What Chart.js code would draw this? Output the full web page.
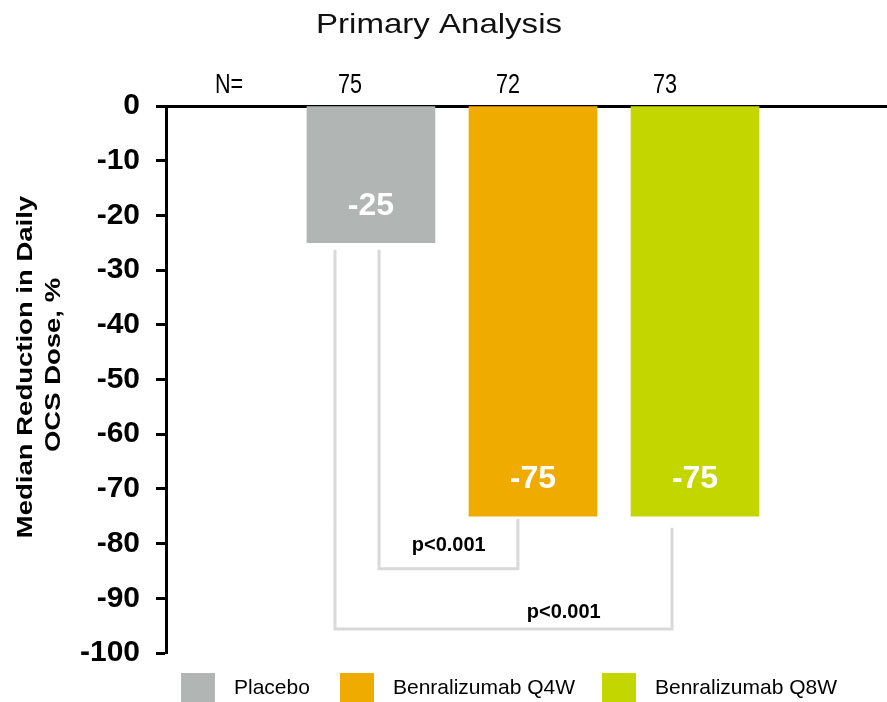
<!DOCTYPE html>
<html lang="en">
<head>
    <meta charset="UTF-8">
    <title>Primary Analysis</title>
    <script src="https://cdn.jsdelivr.net/npm/chart.js"></script>
    <style>
        html, body {
            margin: 0;
            padding: 0;
            background: #fff;
        }
        #wrap {
            width: 887px;
            height: 702px;
        }
    </style>
</head>
<body>
<div id="wrap">
    <canvas id="ocsChart" width="887" height="702"></canvas>
</div>
<script>
    const groups = ['Placebo', 'Benralizumab Q4W', 'Benralizumab Q8W'];
    const nPatients = [75, 72, 73];
    const medianReduction = [-25, -75, -75];
    const barColors = ['#b1b6b5', '#f0ab00', '#c4d600'];
    const pValues = ['p<0.001', 'p<0.001'];

    // bracket shapes, in axis units (x = group index, y = percent)
    const brackets = [
        { x1: 0.05, y1: -26.3, x2: 0.907, y2: -75.5, level: -84.6, textX: 0.48, textY: -80.0 },
        { x1: -0.222, y1: -26.3, x2: 1.858, y2: -77.1, level: -95.6, textX: 1.19, textY: -92.3 }
    ];

    const FONT = '"Liberation Sans", Arial, sans-serif';

    // text helper, sx widens or narrows the glyphs
    function drawText(ctx, text, x, y, font, color, sx, rot) {
        ctx.save();
        ctx.translate(x, y);
        if (rot) ctx.rotate(rot);
        ctx.scale(sx || 1, 1);
        ctx.font = font;
        ctx.fillStyle = color;
        ctx.textAlign = 'center';
        ctx.textBaseline = 'alphabetic';
        ctx.fillText(text, 0, 0);
        ctx.restore();
    }

    const bracketSets = brackets.map((b, i) => ({
        type: 'line',
        label: pValues[i],
        data: [
            { x: b.x1, y: b.y1 },
            { x: b.x1, y: b.level },
            { x: b.x2, y: b.level },
            { x: b.x2, y: b.y2 }
        ],
        borderColor: '#d9d9d9',
        borderWidth: 3,
        pointRadius: 0,
        fill: false,
        tension: 0
    }));

    const annotations = {
        id: 'annotations',
        afterDraw(chart) {
            const ctx = chart.ctx;
            const xs = chart.scales.x;
            const ys = chart.scales.y;

            // title
            drawText(ctx, 'Primary Analysis', 439, 33, '28px ' + FONT, '#111', 1.18);

            // y axis title, two lines
            drawText(ctx, 'Median Reduction in Daily', 32, 367, 'bold 22px ' + FONT, '#000', 1.25, -Math.PI / 2);
            drawText(ctx, 'OCS Dose, %', 60, 365, 'bold 22px ' + FONT, '#000', 1.25, -Math.PI / 2);

            // N row above the bars (narrow type)
            const nShift = [-21, -25, -30];
            drawText(ctx, 'N=', 229, 93, '27px ' + FONT, '#000', 0.8);
            nPatients.forEach((n, i) => {
                drawText(ctx, String(n), xs.getPixelForValue(i) + nShift[i], 93, '27px ' + FONT, '#000', 0.8);
            });

            // values inside the bars
            const meta = chart.getDatasetMeta(0);
            meta.data.forEach((bar, i) => {
                drawText(ctx, String(medianReduction[i]), bar.x, bar.y - 28, 'bold 32px ' + FONT, '#fff', 1);
            });

            // p-values
            brackets.forEach((b, i) => {
                drawText(ctx, pValues[i], xs.getPixelForValue(b.textX), ys.getPixelForValue(b.textY) + 7,
                    'bold 20px ' + FONT, '#000', 1);
            });

            // legend
            const boxX = [181, 340, 602];
            groups.forEach((g, i) => {
                ctx.fillStyle = barColors[i];
                ctx.fillRect(boxX[i], 673, 34, 29);
                ctx.save();
                ctx.font = '21px ' + FONT;
                ctx.fillStyle = '#000';
                ctx.textAlign = 'left';
                ctx.textBaseline = 'middle';
                ctx.fillText(g, boxX[i] + 53, 688);
                ctx.restore();
            });
        }
    };

    const chart = new Chart(document.getElementById('ocsChart'), {
        type: 'bar',
        data: {
            datasets: [{
                label: 'Median reduction',
                data: medianReduction.map((v, i) => ({ x: i, y: v })),
                backgroundColor: barColors,
                borderWidth: 0,
                barThickness: 128,
                order: 1
            }, ...bracketSets]
        },
        options: {
            responsive: false,
            animation: false,
            layout: { padding: { left: 0, top: 0, right: 0, bottom: 49 } },
            plugins: {
                legend: { display: false },
                tooltip: { enabled: false }
            },
            scales: {
                x: {
                    type: 'linear',
                    position: 'top',
                    offset: false,
                    min: -1.265,
                    max: 3.185,
                    grid: { display: false, drawTicks: false },
                    border: { display: true, color: '#000', width: 3 },
                    ticks: { display: false },
                    afterFit(scale) { scale.height = 106; }
                },
                y: {
                    min: -100,
                    max: 0,
                    ticks: {
                        stepSize: 10,
                        color: '#000',
                        padding: 16,
                        font: { family: FONT, size: 30, weight: 'bold' }
                    },
                    grid: {
                        drawOnChartArea: false,
                        drawTicks: true,
                        tickLength: 10,
                        tickWidth: 3,
                        tickColor: '#000'
                    },
                    border: { display: true, color: '#000', width: 3 },
                    afterFit(scale) { scale.width = 166; }
                }
            }
        },
        plugins: [annotations]
    });
</script>
</body>
</html>
